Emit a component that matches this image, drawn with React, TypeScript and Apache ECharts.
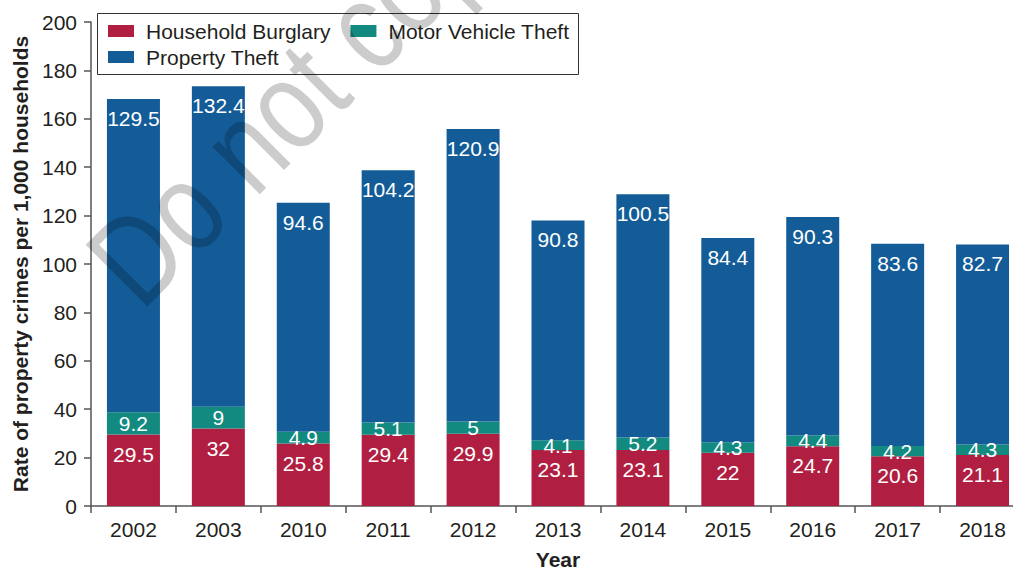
import React, { useEffect, useRef } from "react";
import * as echarts from "echarts";

const years = ["2002", "2003", "2010", "2011", "2012", "2013", "2014", "2015", "2016", "2017", "2018"];
const householdBurglary = [29.5, 32, 25.8, 29.4, 29.9, 23.1, 23.1, 22, 24.7, 20.6, 21.1];
const motorVehicleTheft = [9.2, 9, 4.9, 5.1, 5, 4.1, 5.2, 4.3, 4.4, 4.2, 4.3];
const propertyTheft = [129.5, 132.4, 94.6, 104.2, 120.9, 90.8, 100.5, 84.4, 90.3, 83.6, 82.7];
const watermarkText = "Do not copy";

const FONT = "'Liberation Sans', Arial, Helvetica, sans-serif";
const TEXT = "#231f20";
const RED = "#b01f41";
const TEAL = "#138a80";
const BLUE = "#135c98";

export default function App() {
  const ref = useRef<HTMLDivElement>(null);
  useEffect(() => {
    if (!ref.current) return;
    const chart = echarts.init(ref.current, undefined, { renderer: "svg" });
    const labelBase = { show: true, color: "#ffffff", fontSize: 21, fontFamily: FONT };
    chart.setOption({
      animation: false,
      backgroundColor: "#ffffff",
      textStyle: { fontFamily: FONT },
      grid: {
        left: 91,
        top: 22,
        width: 934,
        height: 484,
        containLabel: false,
        outerBoundsMode: "none",
      },
      legend: [
        {
          data: ["Household Burglary", "Motor Vehicle Theft"],
          left: 108,
          top: 20,
          itemWidth: 26,
          itemHeight: 12,
          itemGap: 20,
          padding: 0,
          icon: "rect",
          textStyle: { fontSize: 21, color: TEXT, fontFamily: FONT, lineHeight: 22, padding: [0, 0, 0, 7] },
        },
        {
          data: ["Property Theft"],
          left: 108,
          top: 46,
          itemWidth: 26,
          itemHeight: 12,
          padding: 0,
          icon: "rect",
          textStyle: { fontSize: 21, color: TEXT, fontFamily: FONT, lineHeight: 22, padding: [0, 0, 0, 7] },
        },
      ],
      xAxis: {
        type: "category",
        data: years,
        name: "Year",
        nameLocation: "middle",
        nameGap: 43,
        nameTextStyle: { fontSize: 21, fontWeight: "bold", color: TEXT, fontFamily: FONT },
        axisLine: { lineStyle: { color: "#555555", width: 1.5 } },
        axisTick: { show: true, length: 7, lineStyle: { color: "#555555", width: 1.5 } },
        axisLabel: { fontSize: 21, color: TEXT, margin: 13, fontFamily: FONT },
        splitLine: { show: false },
      },
      yAxis: {
        type: "value",
        min: 0,
        max: 200,
        interval: 20,
        name: "Rate of property crimes per 1,000 households",
        nameLocation: "middle",
        nameGap: 59,
        nameTextStyle: { fontSize: 21, fontWeight: "bold", color: TEXT, fontFamily: FONT },
        axisLine: { show: true, lineStyle: { color: "#555555", width: 1.5 } },
        axisTick: { show: true, length: 7, lineStyle: { color: "#555555", width: 1.5 } },
        axisLabel: { fontSize: 21, color: TEXT, margin: 14, fontFamily: FONT },
        splitLine: { show: false },
      },
      series: [
        {
          name: "Household Burglary",
          type: "bar",
          stack: "total",
          data: householdBurglary,
          barWidth: 53,
          itemStyle: { color: RED },
          label: { ...labelBase, position: "insideTop", distance: 9 },
        },
        {
          name: "Motor Vehicle Theft",
          type: "bar",
          stack: "total",
          data: motorVehicleTheft,
          barWidth: 53,
          itemStyle: { color: TEAL },
          label: { ...labelBase, position: "inside" },
        },
        {
          name: "Property Theft",
          type: "bar",
          stack: "total",
          data: propertyTheft,
          barWidth: 53,
          itemStyle: { color: BLUE },
          label: { ...labelBase, position: "insideTop", distance: 9 },
        },
      ],
      graphic: [
        {
          type: "rect",
          shape: { x: 97.5, y: 13.5, width: 481, height: 61 },
          style: { fill: "none", stroke: "#333333", lineWidth: 1 },
          z: 50,
        },
        {
          type: "group",
          x: 110,
          y: 281,
          rotation: Math.PI / 4,
          scaleX: 0.81,
          z: 100,
          silent: true,
          children: [
            {
              type: "text",
              x: 0,
              y: 0,
              z: 100,
              silent: true,
              style: {
                text: watermarkText,
                fontSize: 127,
                fontFamily: FONT,
                fill: "rgba(0,0,0,0.2)",
                align: "left",
                verticalAlign: "middle",
              },
            },
          ],
        },
      ],
    });
    return () => chart.dispose();
  }, []);
  return (
    <div
      style={{
        position: "fixed",
        left: 0,
        top: 0,
        width: 1013,
        height: 568,
        overflow: "hidden",
        background: "#fff",
      }}
    >
      <div ref={ref} style={{ width: 1013, height: 568, overflow: "hidden" }} />
    </div>
  );
}
